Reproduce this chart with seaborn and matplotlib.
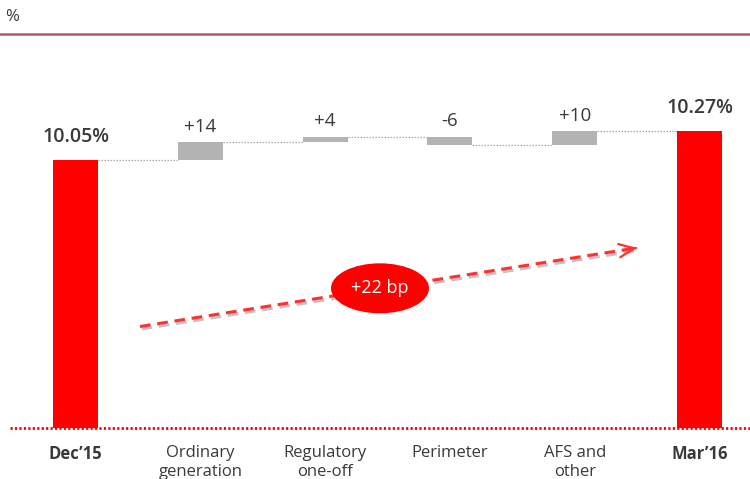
import numpy as np
import pandas as pd
import matplotlib
matplotlib.use("Agg")
import matplotlib.pyplot as plt
import seaborn as sns
from matplotlib.patches import Ellipse
from matplotlib.lines import Line2D
from matplotlib import patheffects as pe
from matplotlib import font_manager

# --- data -------------------------------------------------------------
categories = ["Dec\u201915", "Ordinary\ngeneration", "Regulatory\none-off",
              "Perimeter", "AFS and\nother", "Mar\u201916"]
start_ratio = 10.05          # CET1 ratio, %
end_ratio = 10.27            # CET1 ratio, %
changes_bp = [14, 4, -6, 10]  # basis points
total_change_label = "+22 bp"

# --- style ------------------------------------------------------------
sns.set_theme(style="white")
plt.rcParams["font.family"] = ["Open Sans", "DejaVu Sans"]


def pick_font(name, fallback):
    try:
        font_manager.findfont(name, fallback_to_default=False)
        return name
    except Exception:
        return fallback


cat_font = pick_font("Liberation Sans Narrow", "Open Sans")

RED = "#ff0000"
GREY_BAR = "#b3b3b3"
TEXT = "#3a3a3a"
floor = 8.02                 # value at the bottom of the truncated axis
px_per_pct = 131.8           # vertical scale of the chart (pixels per 1%)

# --- waterfall geometry ----------------------------------------------
levels = [start_ratio]
for c in changes_bp:
    levels.append(levels[-1] + c / 100)
bottoms, heights = [floor], [start_ratio - floor]
for i, c in enumerate(changes_bp):
    lo = min(levels[i], levels[i + 1])
    bottoms.append(lo)
    heights.append(abs(c) / 100)
bottoms.append(floor)
heights.append(end_ratio - floor)
colors = [RED] + [GREY_BAR] * len(changes_bp) + [RED]
tops = [b + h for b, h in zip(bottoms, heights)]

df = pd.DataFrame({"category": categories, "height": heights})

# --- figure -----------------------------------------------------------
W, H = 750, 479
fig = plt.figure(figsize=(W / 100, H / 100), dpi=100)
ax_bottom_px, ax_top_px = 428, 50
ax = fig.add_axes([0, (H - ax_bottom_px) / H, 1, (ax_bottom_px - ax_top_px) / H])

sns.barplot(data=df, x="category", y="height", order=categories,
            bottom=bottoms, width=0.36, color=GREY_BAR, ax=ax,
            saturation=1, errorbar=None, zorder=3)
for patch, col in zip(ax.patches, colors):
    patch.set_facecolor(col)
    patch.set_edgecolor("none")

ax.set_xlim(-0.605, 5.405)
ax.set_ylim(floor, floor + (ax_bottom_px - ax_top_px) / px_per_pct)

# connectors between bars
half = 0.18
for i in range(len(categories) - 1):
    lvl = levels[i] if i < len(levels) else end_ratio
    ax.plot([i + half, i + 1 - half], [lvl, lvl], color="#a8a8a8",
            lw=0.9, linestyle=(0, (1.2, 1.2)), zorder=2)

# dotted red baseline
ax.plot([0.013, 1.0], [0, 0], transform=ax.transAxes, color=RED,
        lw=2.0, linestyle=(0, (0.8, 0.8)), clip_on=False, zorder=4)

# value labels
for i, t in enumerate(tops):
    if i == 0:
        txt, bold, off = f"{start_ratio:.2f}%", True, 10
    elif i == len(tops) - 1:
        txt, bold, off = f"{end_ratio:.2f}%", True, 10
    else:
        c = changes_bp[i - 1]
        txt, bold, off = f"{c:+d}", False, 4.5
    ax.annotate(txt, (i, t), xytext=(0, off), textcoords="offset points",
                ha="center", va="bottom", color=TEXT,
                fontsize=14 if bold else 13.5,
                fontweight="semibold" if bold else "normal")

# total change arrow with label
x0, y0, x1, y1 = 0.517, 8.79, 4.52, 9.39
shadow = [pe.SimpleLineShadow(offset=(1.2, -1.8), shadow_color="#555555", alpha=0.35),
          pe.Normal()]
ax.plot([x0, x1 - 0.02], [y0, y1 - 0.003], color="#ff3030", lw=2.2,
        linestyle=(0, (3.5, 2.2)), solid_capstyle="butt",
        path_effects=shadow, zorder=5)
ax.annotate("", xy=(x1, y1), xytext=(x1 - 0.05, y1 - 0.0075),
            arrowprops=dict(arrowstyle="->,head_length=0.9,head_width=0.4",
                            color="#ff3030", lw=1.6), zorder=5)
ax.add_patch(Ellipse((2.44, 9.08), width=0.785, height=0.379,
                     facecolor=RED, edgecolor="none", zorder=6))
ax.text(2.44, 9.08, total_change_label, ha="center", va="center",
        color="white", fontsize=13, zorder=7)

# axis cosmetics
ax.set_xlabel("")
ax.set_ylabel("")
ax.set_yticks([])
ax.set_xticks(range(len(categories)))
ax.set_xticklabels(categories, fontsize=12, color=TEXT, family=cat_font,
                   linespacing=1.25)
for lbl, cat in zip(ax.get_xticklabels(), categories):
    if cat in (categories[0], categories[-1]):
        lbl.set_fontweight("bold")
ax.tick_params(axis="x", length=0, pad=12)
sns.despine(ax=ax, left=True, bottom=True, top=True, right=True)
ax.patch.set_alpha(0)

# header: unit and rule
fig.text(0.007, 1 - 17 / H, "%", ha="left", va="center", fontsize=12, color=TEXT)
fig.add_artist(Line2D([0, 1], [1 - 34 / H] * 2, color="#b35c5c", lw=1.8))

fig.savefig("out.png", dpi=100)
